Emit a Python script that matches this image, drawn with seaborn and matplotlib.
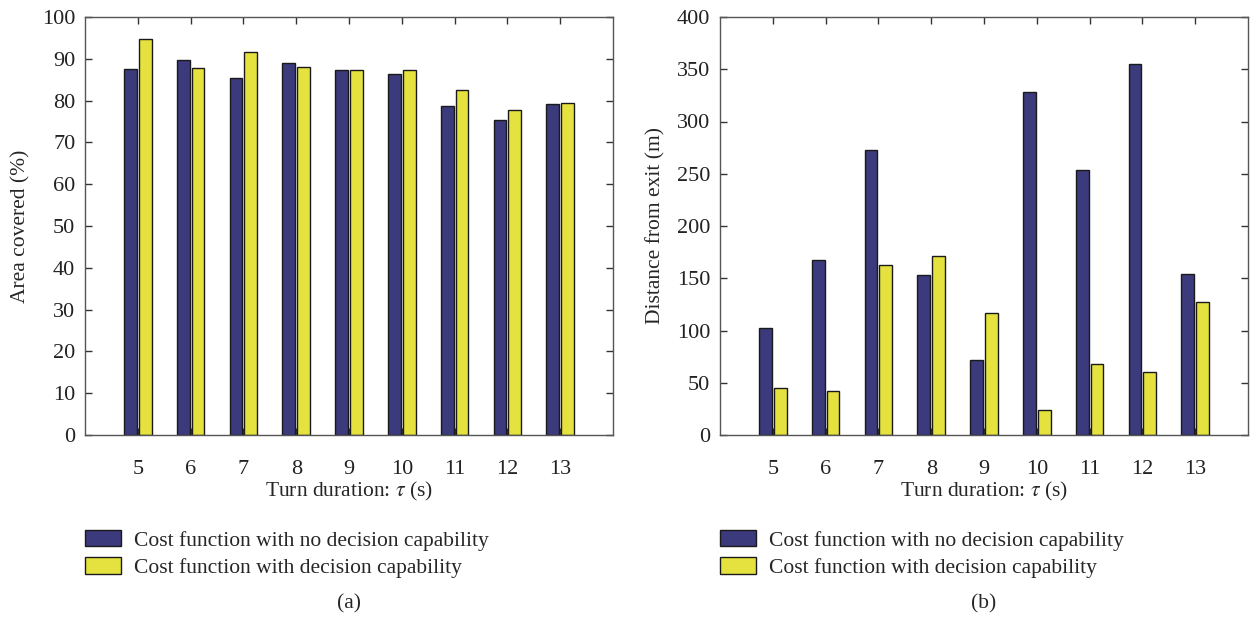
import matplotlib
matplotlib.use("Agg")
import matplotlib.pyplot as plt
import seaborn as sns
import pandas as pd

tau = [5, 6, 7, 8, 9, 10, 11, 12, 13]
series_names = ["Cost function with no decision capability",
                "Cost function with decision capability"]
area_no_decision = [87.6, 89.6, 85.5, 88.9, 87.3, 86.4, 78.6, 75.3, 79.3]
area_decision = [94.8, 87.7, 91.6, 88.1, 87.4, 87.3, 82.5, 77.7, 79.4]
dist_no_decision = [102.7, 167.8, 273.0, 153.1, 71.8, 328.2, 253.6, 355.0, 154.4]
dist_decision = [45.3, 42.1, 163.0, 171.0, 116.7, 23.6, 68.0, 60.6, 127.3]

sns.set_theme(style="white")
plt.rcParams['font.family'] = ['Liberation Serif', 'DejaVu Serif']
plt.rcParams['mathtext.fontset'] = 'stix'

colors = ["#3b3a7c", "#e5e23f"]

def long_df(a, b):
    return pd.DataFrame({
        "tau": tau * 2,
        "value": a + b,
        "series": [series_names[0]] * len(tau) + [series_names[1]] * len(tau),
    })

fig = plt.figure(figsize=(12.51, 6.21), dpi=100)
ax1 = fig.add_axes([85/1251, (621-435)/621, 528/1251, 418/621])
ax2 = fig.add_axes([720/1251, (621-435)/621, 528/1251, 418/621])

panels = [
    (ax1, long_df(area_no_decision, area_decision), "Area covered (%)", (0, 100), range(0, 101, 10), "(a)"),
    (ax2, long_df(dist_no_decision, dist_decision), "Distance from exit (m)", (0, 400), range(0, 401, 50), "(b)"),
]

fs = 15.5
for ax, df, ylabel, ylim, yticks, tag in panels:
    sns.barplot(data=df, x="tau", y="value", hue="series", hue_order=series_names,
                palette=colors, saturation=1, width=0.56, gap=0.14, ax=ax,
                edgecolor="#1a1a1a", linewidth=1.0, errorbar=None)
    ax.set_xlim(-1, 9)
    ax.set_ylim(*ylim)
    ax.set_yticks(list(yticks))
    ax.set_xlabel(r"Turn duration: $\tau$ (s)", fontsize=fs, labelpad=1)
    ax.set_ylabel(ylabel, fontsize=fs, labelpad=8)
    ax.tick_params(direction="in", length=5, width=1, top=True, right=True,
                   bottom=True, left=True, labelsize=16, colors="#333333",
                   labelcolor="#222222")
    ax.tick_params(axis="x", pad=18)
    ax.tick_params(axis="y", pad=7)
    for s in ax.spines.values():
        s.set_color("#555555")
        s.set_linewidth(1.0)
    ax.legend(loc="upper left", bbox_to_anchor=(0.0, -0.227), frameon=False,
              fontsize=fs, handlelength=1.67, handleheight=0.8, handletextpad=0.6,
              borderpad=0, borderaxespad=0, labelspacing=0.3)
    ax.text(0.5, -0.405, tag, transform=ax.transAxes, ha="center", va="center",
            fontsize=fs)

fig.savefig("out.png", dpi=100)
